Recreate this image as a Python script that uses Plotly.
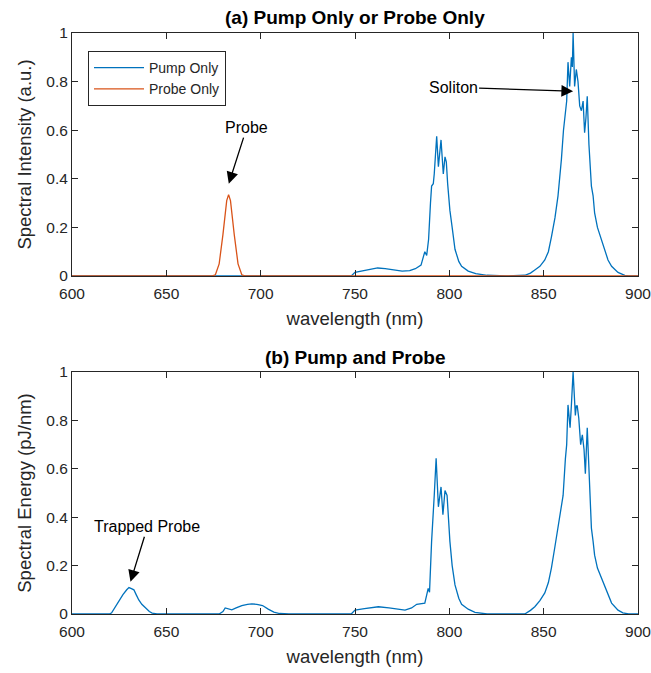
import plotly.graph_objects as go

# ---------------- data ----------------
# (a) Pump only
pump_wl = [600, 650, 700, 748, 750, 753, 757, 762, 766, 770, 775, 779, 782, 785, 787, 788, 789,
           790, 790.6, 791.5, 792, 793.3, 794.2, 795.6, 796.8, 797.7, 798.4, 799.1, 800.3, 801.5,
           803, 805, 806.5, 810, 814, 820, 830, 840, 843, 845.3, 848, 850.6, 852.5, 854.1, 856,
           857.6, 858.5, 859.4, 860.5, 861.5, 862.2, 862.9, 863.8, 864.7, 865.2, 865.6, 866.4,
           867.3, 868.2, 869.1, 870, 870.9, 871.7, 872.4, 873.1, 874, 875.3, 876.2, 877, 878.5,
           880.6, 882, 884.1, 886, 889.4, 893, 895, 900]
pump_only = [0, 0, 0, 0, 0.015, 0.02, 0.025, 0.033, 0.03, 0.025, 0.02, 0.022, 0.03, 0.045, 0.1,
             0.085, 0.15, 0.3, 0.37, 0.38, 0.42, 0.575, 0.45, 0.56, 0.42, 0.49, 0.47, 0.38, 0.27,
             0.2, 0.11, 0.06, 0.04, 0.02, 0.01, 0.003, 0, 0.003, 0.012, 0.025, 0.04, 0.066, 0.1,
             0.16, 0.24, 0.33, 0.4, 0.48, 0.6, 0.66, 0.72, 0.88, 0.78, 0.9, 0.86, 1.0, 0.78, 0.85,
             0.8, 0.70, 0.68, 0.72, 0.59, 0.65, 0.74, 0.54, 0.37, 0.33, 0.26, 0.2, 0.15, 0.12,
             0.066, 0.04, 0.015, 0.003, 0, 0]

# (a) Probe only
probe_wl = [600, 650, 674, 676, 678, 680, 682, 683, 684, 686, 688, 690, 692, 750, 800, 850, 900]
probe_only = [0, 0, 0, 0.005, 0.05, 0.17, 0.31, 0.335, 0.31, 0.17, 0.05, 0.005, 0, 0, 0, 0, 0]

# (b) Pump and probe
both_wl = [600, 620, 621, 623, 625, 627, 629, 630.2, 631.5, 632.8, 634, 635.4, 637, 639, 641,
           642.5, 645, 678, 680, 681.2, 683, 684.7, 687, 690, 693, 695.3, 698, 701, 704, 707,
           710, 715, 748, 750, 755, 762.4, 768, 776.5, 780, 782.7, 787, 788.8, 789.5, 790.6,
           792, 793, 794.2, 795, 795.6, 796.6, 797.7, 798.8, 800.3, 801.5, 803, 805, 806.5, 810,
           813.6, 820, 840, 843, 845.3, 848, 850.6, 852.5, 854.1, 856, 857.6, 859, 860.3, 861.5,
           862.2, 862.9, 864, 864.7, 865.6, 866.8, 867.3, 867.8, 868.6, 869.6, 870.5, 871.4,
           872.1, 873.1, 873.8, 875.3, 876.2, 877, 878.5, 880.6, 882, 884.1, 886, 889.4, 892,
           895, 900]
pump_probe = [0, 0, 0.005, 0.03, 0.058, 0.08, 0.1, 0.109, 0.105, 0.1, 0.08, 0.058, 0.04, 0.025,
              0.01, 0.004, 0, 0, 0.01, 0.025, 0.02, 0.017, 0.025, 0.035, 0.04, 0.042, 0.04, 0.035,
              0.02, 0.008, 0.002, 0, 0, 0.016, 0.022, 0.03, 0.025, 0.016, 0.025, 0.04, 0.045,
              0.106, 0.09, 0.30, 0.49, 0.643, 0.443, 0.5, 0.525, 0.41, 0.51, 0.49, 0.30, 0.2,
              0.12, 0.065, 0.04, 0.02, 0.007, 0, 0, 0.015, 0.03, 0.055, 0.087, 0.13, 0.19, 0.28,
              0.355, 0.42, 0.49, 0.64, 0.7, 0.864, 0.77, 0.864, 1.0, 0.82, 0.86, 0.86, 0.81, 0.70,
              0.74, 0.68, 0.58, 0.77, 0.61, 0.355, 0.3, 0.243, 0.19, 0.15, 0.12, 0.08, 0.045,
              0.016, 0.005, 0, 0]

x_ticks = [600, 650, 700, 750, 800, 850, 900]
y_ticks = [0, 0.2, 0.4, 0.6, 0.8, 1]
y_tick_text = ["0", "0.2", "0.4", "0.6", "0.8", "1"]

BLUE = "#0072BD"
ORANGE = "#D95319"
AX = "#262626"
FONT = "Liberation Sans, Arial, sans-serif"

fig = go.Figure()
fig.add_trace(go.Scatter(x=pump_wl, y=pump_only, mode="lines", name="Pump Only",
                         line=dict(color=BLUE, width=1.3), xaxis="x", yaxis="y"))
fig.add_trace(go.Scatter(x=probe_wl, y=probe_only, mode="lines", name="Probe Only",
                         line=dict(color=ORANGE, width=1.3), xaxis="x", yaxis="y"))
fig.add_trace(go.Scatter(x=both_wl, y=pump_probe, mode="lines", name="Pump and Probe",
                         line=dict(color=BLUE, width=1.3), xaxis="x2", yaxis="y2",
                         showlegend=False))

top_dom = [(614 - 276) / 581, 1.0]
bot_dom = [0.0, (614 - 372) / 581]

xcommon = dict(range=[600, 900], tickvals=x_ticks, ticks="inside", ticklen=6, tickcolor=AX,
               showline=True, linecolor=AX, linewidth=1, mirror="ticks", showgrid=False,
               zeroline=False, tickfont=dict(size=15.5, color=AX, family=FONT),
               ticklabeloverflow="allow", ticklabelstandoff=3, automargin=False,
               title=dict(text="wavelength (nm)", font=dict(size=18.5, color=AX, family=FONT),
                          standoff=11))
ycommon = dict(range=[0, 1], tickvals=y_ticks, ticktext=y_tick_text, ticks="inside", ticklen=6,
               tickcolor=AX, showline=True, linecolor=AX, linewidth=1, mirror="ticks",
               showgrid=False, zeroline=False, automargin=False,
               tickfont=dict(size=15.5, color=AX, family=FONT))

fig.update_layout(
    width=651, height=673,
    margin=dict(l=72, r=13, t=33, b=59),
    paper_bgcolor="white", plot_bgcolor="white",
    font=dict(family=FONT, color=AX),
    xaxis=dict(**xcommon, domain=[0, 1], anchor="y"),
    yaxis=dict(**ycommon, domain=top_dom, anchor="x",
               title=dict(text="Spectral Intensity (a.u.)",
                          font=dict(size=18.5, color=AX, family=FONT), standoff=9)),
    xaxis2=dict(**xcommon, domain=[0, 1], anchor="y2"),
    yaxis2=dict(**ycommon, domain=bot_dom, anchor="x2",
                title=dict(text="Spectral Energy (pJ/nm)",
                           font=dict(size=18.5, color=AX, family=FONT), standoff=9)),
    legend=dict(x=(88 - 72) / 566, y=(614 - 51) / 581, xanchor="left", yanchor="top",
                bgcolor="white", bordercolor=AX, borderwidth=1,
                font=dict(size=14, color=AX, family=FONT), itemwidth=50,
                tracegroupgap=0),
    showlegend=True,
)

# subplot titles
fig.add_annotation(text="<b>(a) Pump Only or Probe Only</b>", xref="paper", yref="paper",
                   x=0.5, y=(614 - 17.5) / 581, xanchor="center", yanchor="middle",
                   showarrow=False, font=dict(size=19, color="black", family=FONT))
fig.add_annotation(text="<b>(b) Pump and Probe</b>", xref="paper", yref="paper",
                   x=0.5, y=(614 - 357) / 581, xanchor="center", yanchor="middle",
                   showarrow=False, font=dict(size=19, color="black", family=FONT))

ann_font = dict(size=16, color="black", family=FONT)
fig.add_annotation(text="Soliton", x=865.6, y=0.76, xref="x", yref="y", ax=-120, ay=-4,
                   showarrow=True, arrowhead=2, arrowsize=1.8, arrowwidth=1.3,
                   arrowcolor="black", font=ann_font)
fig.add_annotation(text="Probe", x=683.1, y=0.38, xref="x", yref="y", ax=18, ay=-56,
                   showarrow=True, arrowhead=2, arrowsize=1.8, arrowwidth=1.3,
                   arrowcolor="black", font=ann_font)
fig.add_annotation(text="Trapped Probe", x=631, y=0.133, xref="x2", yref="y2", ax=17, ay=-55,
                   showarrow=True, arrowhead=2, arrowsize=1.8, arrowwidth=1.3,
                   arrowcolor="black", font=ann_font)

fig.write_html("out.html")
